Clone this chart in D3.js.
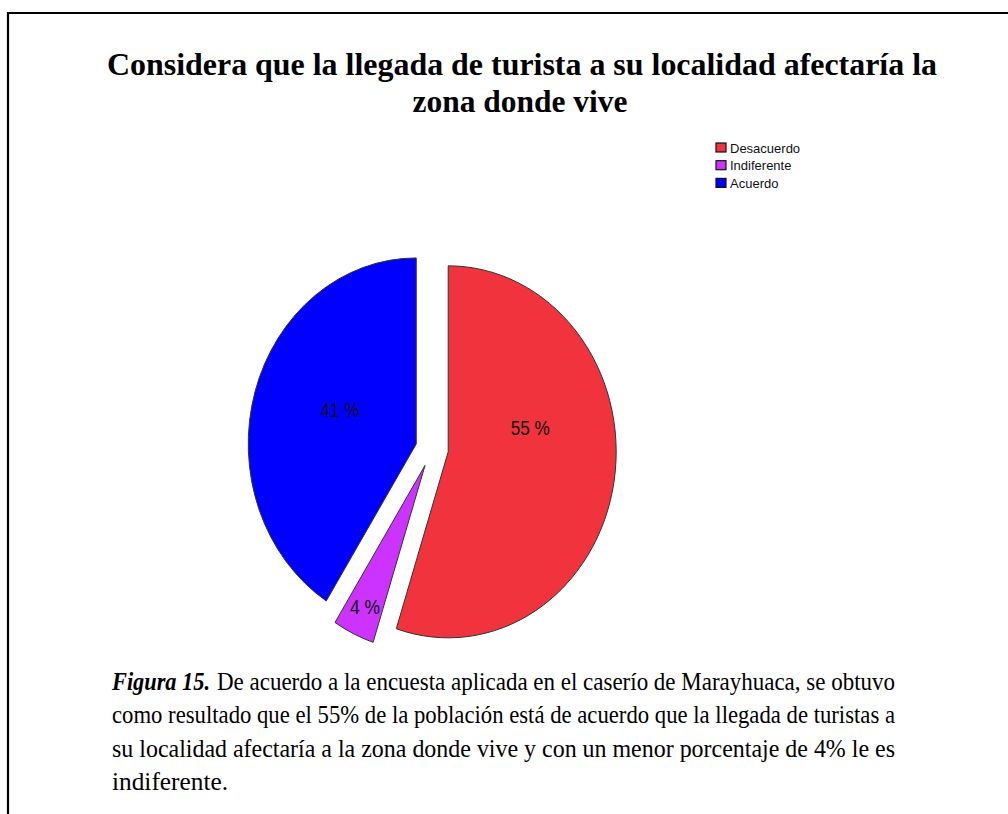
<!DOCTYPE html>
<html>
<head>
<meta charset="utf-8">
<script src="https://cdn.jsdelivr.net/npm/d3@7"></script>
<style>
  html, body { margin: 0; padding: 0; background: #fff; }
  svg { display: block; }
</style>
</head>
<body>
<svg id="chart" width="1008" height="814"></svg>
<script>
// ---- data ----
const categories = ["Desacuerdo", "Indiferente", "Acuerdo"];
const values = [55, 4, 41];
const valueLabels = ["55 %", "4 %", "41 %"];
const titleLines = [
  "Considera que la llegada de turista a su localidad afectaría la",
  "zona donde vive"
];
const captionLead = "Figura 15.";
const captionLines = [
  "De acuerdo a la encuesta aplicada en el caserío de Marayhuaca, se obtuvo",
  "como resultado que el 55% de la población está de acuerdo que la llegada de turistas a",
  "su localidad afectaría a la zona donde vive y con un menor porcentaje de 4% le es",
  "indiferente."
];

// ---- style / layout ----
const colors = ["#f0333c", "#cc33ff", "#0000ff"];
const W = 1008, H = 814;
const cx = 432, cy = 449, rx = 168, ry = 186, explode = 16.4;
// label placement: fraction of slice's angular span, fraction of radius
const labelAngleFrac = [0.38, 0.5, 0.54];
const labelRadiusFrac = [0.505, 0.84, 0.49];
const labelWidths = [39, 30, 39];

const svg = d3.select("#chart");

// frame
svg.append("path")
  .attr("d", `M8,${H} L8,13 L${W},13`)
  .attr("fill", "none").attr("stroke", "#000").attr("stroke-width", 2.2);

// title
const title = svg.append("g")
  .attr("font-family", "'Liberation Serif', 'Times New Roman', serif")
  .attr("font-weight", "bold").attr("font-size", 32);
title.append("text")
  .attr("x", 522).attr("y", 75)
  .attr("text-anchor", "middle")
  .attr("textLength", 830).attr("lengthAdjust", "spacingAndGlyphs")
  .text(titleLines[0]);
title.append("text")
  .attr("x", 520).attr("y", 112)
  .attr("text-anchor", "middle")
  .attr("textLength", 215).attr("lengthAdjust", "spacingAndGlyphs")
  .text(titleLines[1]);

// legend
const legend = svg.append("g").attr("transform", "translate(716,143)");
const li = legend.selectAll("g").data(categories).join("g")
  .attr("transform", (d, i) => `translate(0,${i * 17.7})`);
li.append("rect").attr("width", 10).attr("height", 9)
  .attr("fill", (d, i) => colors[i]).attr("stroke", "#111").attr("stroke-width", 1.2);
li.append("text").attr("x", 14).attr("y", 9.5)
  .attr("font-family", "'Liberation Sans', Arial, sans-serif")
  .attr("font-size", 13).attr("fill", "#111")
  .text(d => d);

// pie
const pie = d3.pie().sort(null).value(d => d).startAngle(0).endAngle(2 * Math.PI);
const arcs = pie(values);
const arc = d3.arc().innerRadius(0).outerRadius(rx);
const sy = ry / rx;

const pg = svg.append("g").attr("transform", `translate(${cx},${cy}) scale(1,${sy})`);
const slices = pg.selectAll("g.slice").data(arcs).join("g")
  .attr("class", "slice")
  .attr("transform", d => {
    const m = (d.startAngle + d.endAngle) / 2;
    return `translate(${explode * Math.sin(m)},${-explode * Math.cos(m)})`;
  });
slices.append("path")
  .attr("d", arc)
  .attr("fill", (d, i) => colors[i])
  .attr("stroke", "#333").attr("stroke-width", 1)
  .attr("vector-effect", "non-scaling-stroke");

// labels (drawn unscaled)
const lg = svg.append("g");
arcs.forEach((d, i) => {
  const m = (d.startAngle + d.endAngle) / 2;
  const ox = explode * Math.sin(m), oy = -explode * Math.cos(m) * sy;
  const a = d.startAngle + (d.endAngle - d.startAngle) * labelAngleFrac[i];
  const r = rx * labelRadiusFrac[i];
  const x = cx + ox + r * Math.sin(a);
  const y = cy + oy - r * Math.cos(a) * sy;
  lg.append("text")
    .attr("x", x).attr("y", y)
    .attr("text-anchor", "middle").attr("dominant-baseline", "central")
    .attr("font-family", "'Liberation Sans', Arial, sans-serif")
    .attr("font-size", 20).attr("fill", "#111")
    .attr("textLength", labelWidths[i]).attr("lengthAdjust", "spacingAndGlyphs")
    .text(valueLabels[i]);
});

// caption
const cap = svg.append("g")
  .attr("font-family", "'Liberation Serif', 'Times New Roman', serif")
  .attr("font-size", 26).attr("fill", "#000");
const baseY = [690, 723.3, 756.6, 790];
// lead (bold italic)
cap.append("text").attr("x", 112).attr("y", baseY[0])
  .attr("font-weight", "bold").attr("font-style", "italic")
  .attr("textLength", 98).attr("lengthAdjust", "spacingAndGlyphs")
  .text(captionLead);
captionLines.forEach((line, i) => {
  const x0 = i === 0 ? 217 : 112;
  const t = cap.append("text").attr("x", x0).attr("y", baseY[i]).text(line);
  if (i < 3) t.attr("textLength", 895 - x0).attr("lengthAdjust", "spacingAndGlyphs");
  else t.attr("textLength", 116).attr("lengthAdjust", "spacingAndGlyphs");
});
</script>
</body>
</html>
